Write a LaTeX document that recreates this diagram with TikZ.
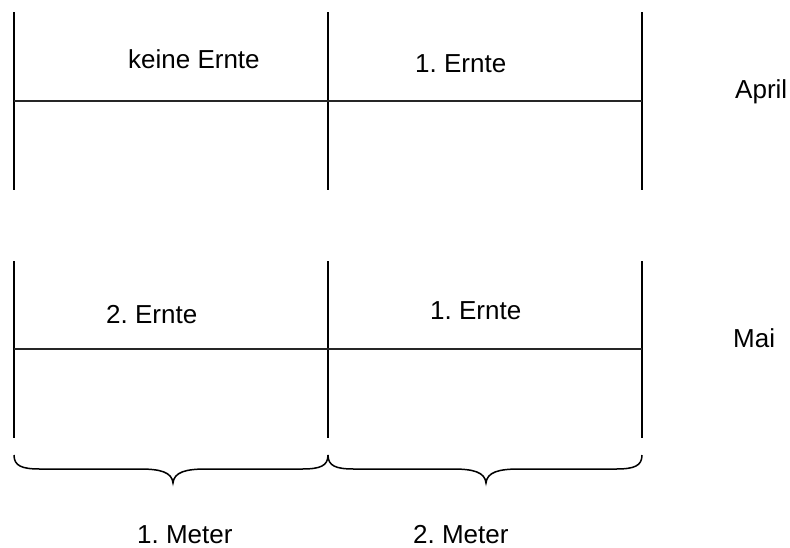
\documentclass[tikz,border=0pt]{standalone}
\usepackage{fontspec}
\setmainfont{Liberation Sans}
\frenchspacing
\begin{document}
\begin{tikzpicture}[x=1pt,y=-1pt,
  wall/.style={line width=1.6pt,black},
  divline/.style={line width=1.4pt,black!85},
  bracepath/.style={line width=1.5pt,black},
  lbl/.style={inner sep=0pt,anchor=base west,font=\fontsize{26}{30}\selectfont}]
\useasboundingbox (0,0) rectangle (790,547);
% top block
\coordinate (a1t) at (14,12);  \coordinate (a1b) at (14,190);
\coordinate (a2t) at (328,12); \coordinate (a2b) at (328,190);
\coordinate (a3t) at (642,12); \coordinate (a3b) at (642,190);
\coordinate (ahl) at (14,101); \coordinate (ahr) at (642,101);
\draw[wall] (a1t) -- (a1b);
\draw[wall] (a2t) -- (a2b);
\draw[wall] (a3t) -- (a3b);
\draw[divline] (ahl) -- (ahr);
% bottom block
\coordinate (b1t) at (14,261);  \coordinate (b1b) at (14,438);
\coordinate (b2t) at (328,261); \coordinate (b2b) at (328,438);
\coordinate (b3t) at (642,261); \coordinate (b3b) at (642,438);
\coordinate (bhl) at (14,349); \coordinate (bhr) at (642,349);
\draw[wall] (b1t) -- (b1b);
\draw[wall] (b2t) -- (b2b);
\draw[wall] (b3t) -- (b3b);
\draw[divline] (bhl) -- (bhr);
% braces
\draw[bracepath] (14,455) .. controls (14,466) and (22,469) .. (40,469)
  -- (140,469) .. controls (160,469) and (172,472) .. (173,483)
  .. controls (174,472) and (186,469) .. (206,469)
  -- (302,469) .. controls (320,469) and (328,466) .. (328,455);
\draw[bracepath] (328,455) .. controls (328,466) and (336,469) .. (354,469)
  -- (453,469) .. controls (473,469) and (485,472) .. (486,483)
  .. controls (487,472) and (499,469) .. (519,469)
  -- (616,469) .. controls (634,469) and (642,466) .. (642,455);
% labels
\node[lbl] (t1) at (128,68) {keine Ernte};
\node[lbl] (t2) at (415,72) {1. Ernte};
\node[lbl] (t3) at (106,323) {2. Ernte};
\node[lbl] (t4) at (430,319) {1. Ernte};
\node[lbl] (t5) at (735,98) {April};
\node[lbl] (t6) at (733,347) {Mai};
\node[lbl] (t7) at (137,543) {1. Meter};
\node[lbl] (t8) at (413,543) {2. Meter};
\end{tikzpicture}
\end{document}
